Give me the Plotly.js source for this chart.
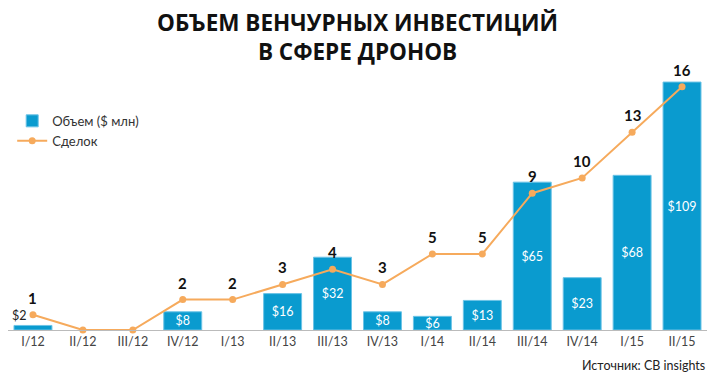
<!DOCTYPE html>
<html><head><meta charset="utf-8">
<script src="https://cdn.plot.ly/plotly-3.0.1.min.js"></script>
<style>html,body{margin:0;padding:0;background:#fff}#chart{width:710px;height:380px}</style>
</head><body><div id="chart"></div>
<script>
const categories = ['I/12','II/12','III/12','IV/12','I/13','II/13','III/13','IV/13','I/14','II/14','III/14','IV/14','I/15','II/15'];
const volume = [2, 0, 0, 8, 0, 16, 32, 8, 6, 13, 65, 23, 68, 109];
const deals = [1, 0, 0, 2, 2, 3, 4, 3, 5, 5, 9, 10, 13, 16];

const SMALL = 4;
const barText = volume.map(v => v >= SMALL ? '$' + v : '');
const borderWidths = volume.map(v => v > 0 ? 1 : 0);

const bars = {
  type: 'bar', name: 'Объем ($ млн)', x: categories, y: volume,
  marker: {color: '#0a9bcf', line: {color: '#6cc3e6', width: borderWidths}},
  text: barText, textposition: 'inside', insidetextanchor: 'middle', textangle: 0,
  constraintext: 'none', cliponaxis: false,
  insidetextfont: {color: '#ffffff', size: 12.5, family: 'Lato, sans-serif'},
  hoverinfo: 'skip'
};
const line = {
  type: 'scatter', mode: 'lines+markers', name: 'Сделок', x: categories, y: deals,
  yaxis: 'y2', line: {color: '#f6aa5c', width: 2}, marker: {color: '#f6aa5c', size: 7},
  cliponaxis: false, hoverinfo: 'skip'
};

const annotations = [];
deals.forEach((d, i) => {
  if (d > 0) annotations.push({
    x: categories[i], y: d, xref: 'x', yref: 'y2', text: String(d),
    showarrow: false, yshift: 17, font: {size: 15, color: '#111', family: 'Lato, sans-serif', weight: 'bold'}
  });
});
volume.forEach((v, i) => {
  if (v > 0 && v < SMALL) annotations.push({
    x: categories[i], y: v, xref: 'x', yref: 'y', text: '$' + v, xanchor: 'center', yanchor: 'bottom',
    showarrow: false, xshift: -13, yshift: 0, font: {size: 12.5, color: '#222', family: 'Lato, sans-serif'}
  });
});
annotations.push({
  xref: 'paper', yref: 'paper', x: 1, y: -0.095, xanchor: 'right', yanchor: 'top',
  text: 'Источник: CB insights', showarrow: false,
  font: {size: 12.5, color: '#222', family: 'Lato, sans-serif'}
});
annotations.push({
  xref: 'paper', yref: 'paper', x: 0.5, y: 1.205, xanchor: 'center', yanchor: 'top',
  text: '<b>ОБЪЕМ ВЕНЧУРНЫХ ИНВЕСТИЦИЙ<br>В СФЕРЕ ДРОНОВ</b>', showarrow: false,
  font: {size: 22.5, color: '#111', family: 'Open Sans, sans-serif', weight: 800}
});

const layout = {
  width: 710, height: 380,
  margin: {l: 8, r: 3, t: 60, b: 50, autoexpand: false},
  paper_bgcolor: '#fff', plot_bgcolor: '#fff',
  bargap: 0.24,
  showlegend: true,
  legend: {x: 0.006, y: 0.83, xanchor: 'left', yanchor: 'top', bgcolor: 'rgba(0,0,0,0)',
    font: {size: 13, color: '#333', family: 'Lato, sans-serif'}, tracegroupgap: 2},
  xaxis: {type: 'category', range: [-0.5, 13.5], automargin: false, showgrid: false, zeroline: false, showline: true,
    linecolor: '#bbbbbb', linewidth: 1, ticks: '', ticklabeloverflow: 'allow',
    tickfont: {size: 12.5, color: '#444', family: 'Lato, sans-serif'}, fixedrange: true},
  yaxis: {range: [0, 118.7], visible: false, showgrid: false, zeroline: false, fixedrange: true},
  yaxis2: {range: [0, 17.76], overlaying: 'y', visible: false, showgrid: false, zeroline: false, fixedrange: true},
  annotations: annotations
};

Plotly.newPlot('chart', [bars, line], layout, {displayModeBar: false, staticPlot: true});
</script></body></html>
